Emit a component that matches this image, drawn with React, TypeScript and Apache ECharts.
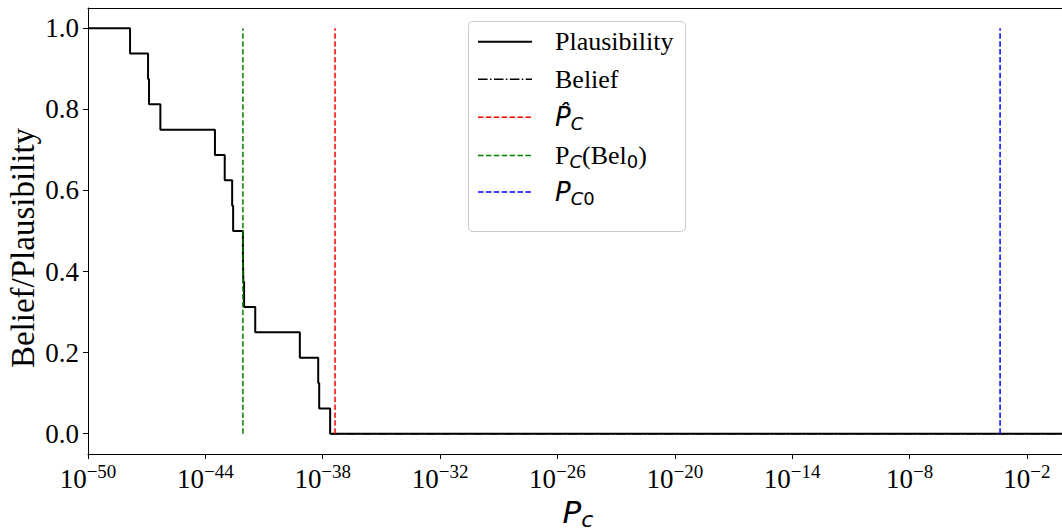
import React, { useEffect, useRef } from 'react';
import * as echarts from 'echarts';

// x axis is log10(P_c)
const xTickExponents = [-50, -44, -38, -32, -26, -20, -14, -8, -2];
const yTickValues = [0, 0.2, 0.4, 0.6, 0.8, 1.0];

const plausibilityLogPc = [-50, -47.85, -46.93, -46.88, -46.3, -43.51, -43.01, -42.63, -42.58, -42.08, -42.06, -42.02, -41.45, -39.17, -38.23, -38.18, -37.62, 0];
const plausibilityValues = [1.0, 0.9375, 0.875, 0.8125, 0.75, 0.6875, 0.625, 0.5625, 0.5, 0.4375, 0.375, 0.3125, 0.25, 0.1875, 0.125, 0.0625, 0, 0];

const beliefLogPc = [-37.62, 0];
const beliefValues = [0, 0];

const pcHatLog = -37.37;
const pcBel0Log = -42.08;
const pc0Log = -3.37;
const verticalSpan = [0, 1];

const X_MIN = -50;
const X_MAX = 0;

const SERIF = '"Liberation Serif", "Times New Roman", serif';
const SANS = '"DejaVu Sans", sans-serif';

const legendRows = [41.7, 79.3, 117.3, 155.5, 192];

function buildOption() {
  const plaus = plausibilityLogPc.map((x, i) => [x, plausibilityValues[i]]);
  const belief = beliefLogPc.map((x, i) => [x, beliefValues[i]]);
  const vline = (x: number) => verticalSpan.map((y) => [x, y]);

  const legendLineX0 = 478;
  const legendLineX1 = 532;
  const legendTextX = 555;

  const lines = [
    { color: '#000', dash: null, width: 2 },
    { color: '#000', dash: [9.6, 2.4, 1.5, 2.4], width: 1.5 },
    { color: '#ff0000', dash: [5.5, 2.4], width: 1.5 },
    { color: '#008000', dash: [5.5, 2.4], width: 1.5 },
    { color: '#0000ff', dash: [5.5, 2.4], width: 1.5 },
  ];

  const graphic: any[] = [
    {
      type: 'rect',
      z: 100,
      shape: { x: 468.5, y: 21.5, width: 217, height: 210, r: 4 },
      style: { fill: 'rgba(255,255,255,0.8)', stroke: '#cccccc', lineWidth: 1 },
    },
  ];
  lines.forEach((l, i) => {
    graphic.push({
      type: 'line',
      z: 101,
      shape: { x1: legendLineX0, y1: legendRows[i], x2: legendLineX1, y2: legendRows[i] },
      style: { stroke: l.color, lineWidth: l.width, lineDash: l.dash || undefined },
    });
  });
  const legendTexts = [
    '{r|Plausibility}',
    '{r|Belief}',
    '{pi|P\u0302}{si|C}',
    '{r|P}{si|C}{r|(Bel}{su|0}{r|)}',
    '{pi|P}{si|C}{su|0}',
  ];
  const legendRich = {
    r: { fontFamily: SERIF, fontSize: 26, lineHeight: 30, verticalAlign: 'middle', fill: '#000' },
    pi: { fontFamily: SANS, fontStyle: 'italic', fontSize: 26, lineHeight: 30, verticalAlign: 'middle', fill: '#000' },
    si: { fontFamily: SANS, fontStyle: 'italic', fontSize: 18, lineHeight: 14, verticalAlign: 'bottom', fill: '#000' },
    su: { fontFamily: SANS, fontSize: 18, lineHeight: 14, verticalAlign: 'bottom', fill: '#000' },
  };
  legendTexts.forEach((t, i) => {
    graphic.push({
      type: 'text',
      z: 101,
      x: legendTextX,
      y: legendRows[i],
      style: { text: t, rich: legendRich, align: 'left', verticalAlign: 'middle', fill: '#000' },
    });
  });

  // axis titles
  graphic.push({
    type: 'text',
    x: 23,
    y: 248,
    rotation: Math.PI / 2,
    style: {
      text: 'Belief/Plausibility',
      fontFamily: SERIF,
      fontSize: 33,
      fill: '#000',
      align: 'center',
      verticalAlign: 'middle',
    },
  });
  graphic.push({
    type: 'text',
    x: 578,
    y: 512,
    style: {
      text: '{p|P}{c|c}',
      align: 'center',
      verticalAlign: 'middle',
      rich: {
        p: { fontFamily: SANS, fontStyle: 'italic', fontSize: 31, lineHeight: 36, verticalAlign: 'middle', fill: '#000' },
        c: { fontFamily: SANS, fontStyle: 'italic', fontSize: 22, lineHeight: 18, verticalAlign: 'bottom', fill: '#000' },
      },
    },
  });

  const axisLineStyle = { color: '#000', width: 1 };

  return {
    animation: false,
    backgroundColor: '#fff',
    grid: { left: 88, right: 0, top: 8, bottom: 77, show: false },
    xAxis: [
      {
        type: 'value',
        position: 'bottom',
        min: X_MIN,
        max: X_MAX,
        splitLine: { show: false },
        axisLine: { show: true, onZero: false, lineStyle: axisLineStyle },
        axisTick: { show: true, customValues: xTickExponents, length: 5, lineStyle: axisLineStyle },
        axisLabel: {
          customValues: xTickExponents,
          margin: 8,
          formatter: (v: number) => `{b|10}{s|\u2212${Math.abs(v)}}`,
          rich: {
            b: { fontFamily: SERIF, fontSize: 27, lineHeight: 30, padding: [14, 0, 0, 0], verticalAlign: 'bottom', color: '#000' },
            s: { fontFamily: SERIF, fontSize: 19, lineHeight: 18, verticalAlign: 'top', color: '#000' },
          },
        },
      },
      {
        type: 'value',
        position: 'top',
        min: X_MIN,
        max: X_MAX,
        splitLine: { show: false },
        axisLine: { show: true, onZero: false, lineStyle: axisLineStyle },
        axisTick: { show: false },
        axisLabel: { show: false },
      },
    ],
    yAxis: {
      type: 'value',
      position: 'left',
      min: -0.05,
      max: 1.05,
      splitLine: { show: false },
      axisLine: { show: true, onZero: false, lineStyle: axisLineStyle },
      axisTick: { show: true, customValues: yTickValues, length: 5, lineStyle: axisLineStyle },
      axisLabel: {
        customValues: yTickValues,
        margin: 9,
        fontFamily: SERIF,
        fontSize: 27,
        color: '#000',
        formatter: (v: number) => v.toFixed(1),
      },
    },
    series: [
      {
        name: 'Belief',
        type: 'line',
        step: 'end',
        data: belief,
        symbol: 'none',
        z: 2,
        lineStyle: { color: '#000', width: 1.5, type: [9.6, 2.4, 1.5, 2.4] },
      },
      {
        name: 'Plausibility',
        type: 'line',
        step: 'end',
        data: plaus,
        symbol: 'none',
        z: 3,
        lineStyle: { color: '#000', width: 2 },
      },
      {
        name: 'P̂_C',
        type: 'line',
        data: vline(pcHatLog),
        symbol: 'none',
        z: 4,
        lineStyle: { color: '#ff0000', width: 1.5, type: [5.5, 2.4] },
      },
      {
        name: 'P_C(Bel_0)',
        type: 'line',
        data: vline(pcBel0Log),
        symbol: 'none',
        z: 4,
        lineStyle: { color: '#008000', width: 1.5, type: [5.5, 2.4] },
      },
      {
        name: 'P_C0',
        type: 'line',
        data: vline(pc0Log),
        symbol: 'none',
        z: 4,
        lineStyle: { color: '#0000ff', width: 1.5, type: [5.5, 2.4] },
      },
    ],
    graphic,
  };
}

export default function App() {
  const ref = useRef<HTMLDivElement>(null);
  useEffect(() => {
    const chart = echarts.init(ref.current!, null, { renderer: 'svg' });
    chart.setOption(buildOption() as any);
    return () => chart.dispose();
  }, []);
  return (
    <div
      style={{ width: 1062, height: 531, position: 'fixed', left: 0, top: 0, overflow: 'hidden', background: '#fff' }}
    >
      <div ref={ref} style={{ width: 1066, height: 531 }} />
    </div>
  );
}
